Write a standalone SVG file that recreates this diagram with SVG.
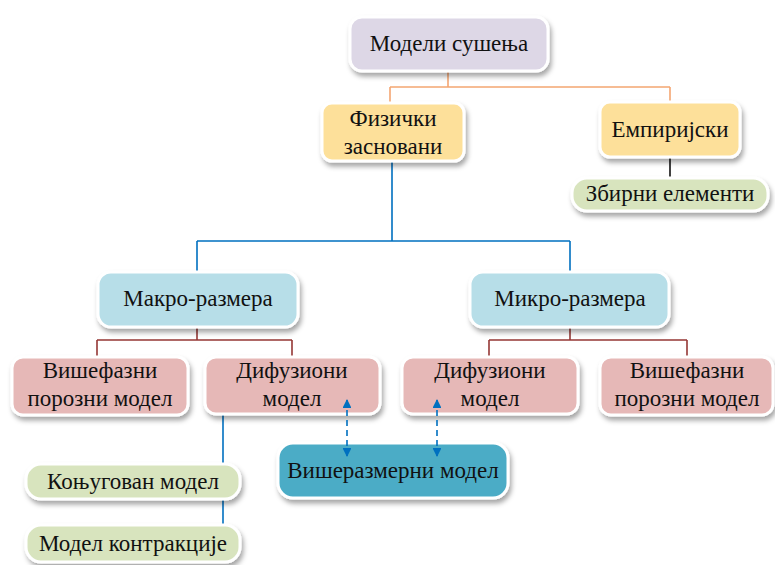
<svg xmlns="http://www.w3.org/2000/svg" width="775" height="565" viewBox="0 0 775 565">
  <defs>
    <filter id="shadow" x="-20%" y="-30%" width="140%" height="170%">
      <feDropShadow dx="2" dy="4" stdDeviation="2.5" flood-color="#000" flood-opacity="0.35"/>
    </filter>
    <marker id="arrow" viewBox="0 0 10 10" refX="9" refY="5" markerWidth="5.5" markerHeight="5.5" orient="auto-start-reverse">
      <path d="M0,0 L10,5 L0,10 z" fill="#0070C0"/>
    </marker>
  </defs>
  <style>
    .box { stroke: #fff; stroke-width: 3; filter: url(#shadow); }
    .lav { fill: #DDD7E6; }
    .yel { fill: #FDE09A; }
    .grn { fill: #D8E4BE; }
    .lbl { fill: #B7DEE8; }
    .pnk { fill: #E6B8B7; }
    .teal { fill: #4BACC6; }
    .c { fill: none; stroke-width: 1.6; }
  </style>

  <g id="connectors">
    <path class="c" stroke="#F4A672" d="M448,72 V87 M390,87 H670 M390,87 V103 M670,87 V102"/>
    <path class="c" stroke="#111" d="M670,157 V178"/>
    <path class="c" stroke="#0070C0" d="M392,162 V241 M197,241 H570 M197,241 V272 M570,241 V272"/>
    <path class="c" stroke="#953735" d="M197,327 V340 M97,340 H292 M97,340 V357 M292,340 V357"/>
    <path class="c" stroke="#953735" d="M570,327 V340 M489,340 H687 M489,340 V357 M687,340 V357"/>
    <path class="c" stroke="#0070C0" d="M223,415 V525"/>
  </g>

  <g id="drying-models">
    <rect class="box lav" x="350" y="17" width="198" height="54" rx="12"/>
    <text x="449" y="51" font-family="Liberation Serif" font-size="23" fill="#111" text-anchor="middle">Модели сушења</text>
  </g>
  <g id="physics-based">
    <rect class="box yel" x="322" y="103" width="142" height="58" rx="10"/>
    <text x="393" y="126" font-family="Liberation Serif" font-size="23" fill="#111" text-anchor="middle">Физички</text>
    <text x="393" y="154" font-family="Liberation Serif" font-size="23" fill="#111" text-anchor="middle">засновани</text>
  </g>
  <g id="empirical">
    <rect class="box yel" x="600" y="102" width="140" height="55" rx="10"/>
    <text x="670" y="137" font-family="Liberation Serif" font-size="23" fill="#111" text-anchor="middle">Емпиријски</text>
  </g>
  <g id="lumped">
    <rect class="box grn" x="572" y="178" width="196" height="33" rx="15"/>
    <text x="670" y="201" font-family="Liberation Serif" font-size="23" fill="#111" text-anchor="middle">Збирни елементи</text>
  </g>
  <g id="macro">
    <rect class="box lbl" x="98" y="272" width="200" height="55" rx="13"/>
    <text x="198" y="306" font-family="Liberation Serif" font-size="23" fill="#111" text-anchor="middle">Макро-размера</text>
  </g>
  <g id="micro">
    <rect class="box lbl" x="470" y="272" width="199" height="55" rx="13"/>
    <text x="570" y="306" font-family="Liberation Serif" font-size="23" fill="#111" text-anchor="middle">Микро-размера</text>
  </g>
  <g id="macro-multiphase">
    <rect class="box pnk" x="12" y="357" width="176" height="58" rx="11"/>
    <text x="100" y="378" font-family="Liberation Serif" font-size="23" fill="#111" text-anchor="middle">Вишефазни</text>
    <text x="100" y="406" font-family="Liberation Serif" font-size="23" fill="#111" text-anchor="middle">порозни модел</text>
  </g>
  <g id="macro-diffusion">
    <rect class="box pnk" x="205" y="357" width="175" height="57" rx="11"/>
    <text x="292" y="378" font-family="Liberation Serif" font-size="23" fill="#111" text-anchor="middle">Дифузиони</text>
    <text x="292" y="406" font-family="Liberation Serif" font-size="23" fill="#111" text-anchor="middle">модел</text>
  </g>
  <g id="micro-diffusion">
    <rect class="box pnk" x="402" y="357" width="176" height="57" rx="11"/>
    <text x="490" y="378" font-family="Liberation Serif" font-size="23" fill="#111" text-anchor="middle">Дифузиони</text>
    <text x="490" y="406" font-family="Liberation Serif" font-size="23" fill="#111" text-anchor="middle">модел</text>
  </g>
  <g id="micro-multiphase">
    <rect class="box pnk" x="600" y="357" width="173" height="58" rx="11"/>
    <text x="687" y="378" font-family="Liberation Serif" font-size="23" fill="#111" text-anchor="middle">Вишефазни</text>
    <text x="687" y="406" font-family="Liberation Serif" font-size="23" fill="#111" text-anchor="middle">порозни модел</text>
  </g>
  <g id="multiscale">
    <rect class="box teal" x="278" y="443" width="230" height="55" rx="15"/>
    <text x="393" y="478" font-family="Liberation Serif" font-size="23" fill="#111" text-anchor="middle">Вишеразмерни модел</text>
  </g>
  <g id="conjugate">
    <rect class="box grn" x="26" y="464" width="214" height="35" rx="15"/>
    <text x="133" y="489" font-family="Liberation Serif" font-size="23" fill="#111" text-anchor="middle">Коњугован модел</text>
  </g>
  <g id="shrinkage">
    <rect class="box grn" x="26" y="525" width="214" height="37" rx="15"/>
    <text x="133" y="551" font-family="Liberation Serif" font-size="23" fill="#111" text-anchor="middle">Модел контракције</text>
  </g>

  <!-- two-way coupling arrows, drawn over the boxes they join -->
  <g id="coupling-arrows">
    <path class="c" stroke="#0070C0" stroke-dasharray="6,4" marker-start="url(#arrow)" marker-end="url(#arrow)" d="M347,400 V456"/>
    <path class="c" stroke="#0070C0" stroke-dasharray="6,4" marker-start="url(#arrow)" marker-end="url(#arrow)" d="M437,400 V456"/>
  </g>
</svg>
